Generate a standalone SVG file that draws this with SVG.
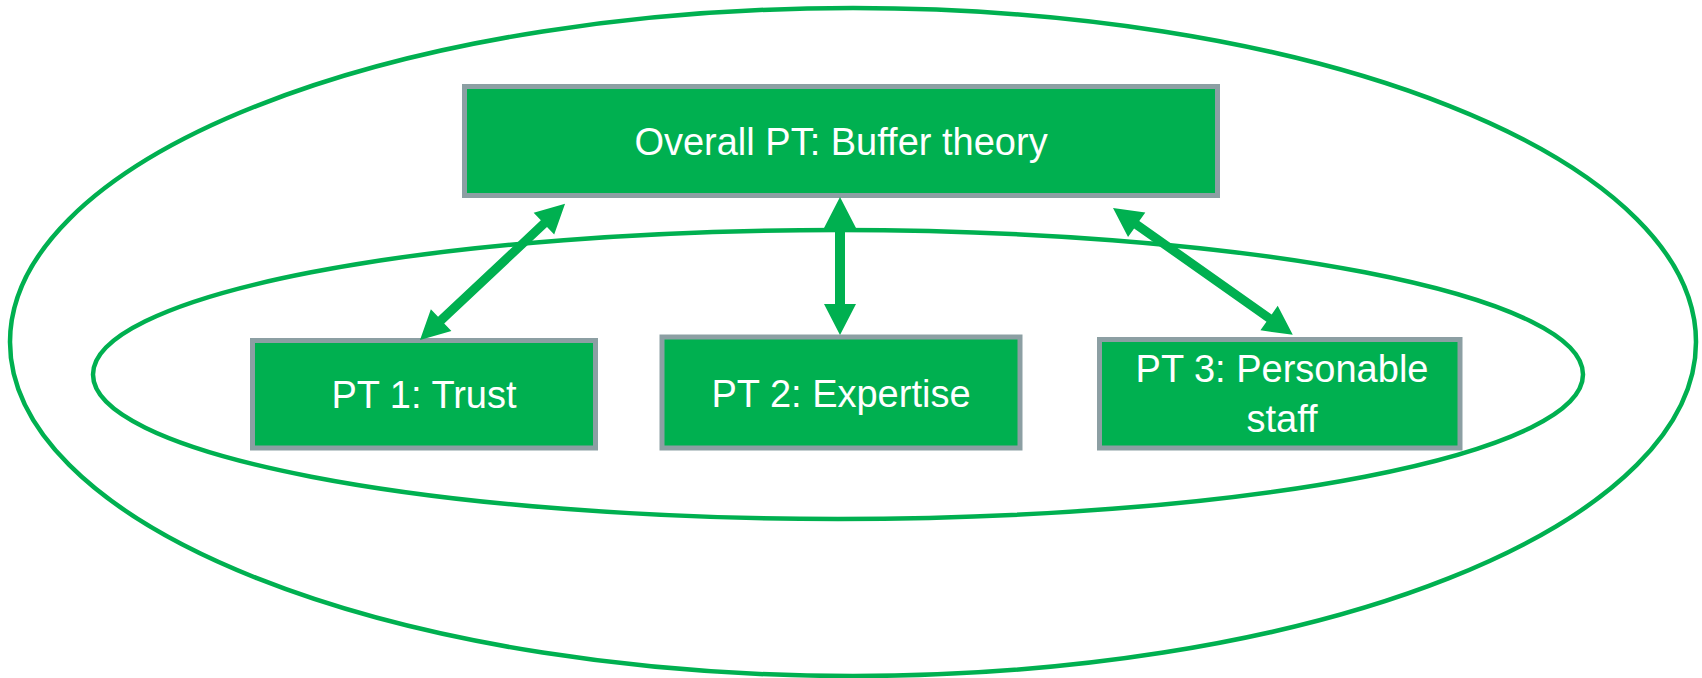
<svg xmlns="http://www.w3.org/2000/svg" width="1702" height="678" viewBox="0 0 1702 678">
<style>
.ring{fill:none;stroke:#00B050;stroke-width:4.5}
.box{fill:#00B050;stroke:#8C9FA3;stroke-width:5}
.lbl{font-family:"Liberation Sans",Arial,sans-serif;font-size:38px;fill:#FFFFFF;text-anchor:middle}
.arr{fill:#00B050;stroke:none}
</style>
<rect width="1702" height="678" fill="#FFFFFF"/>
<g id="outer-ellipse"><ellipse class="ring" cx="853" cy="342" rx="843" ry="334"/></g>
<g id="inner-ellipse"><ellipse class="ring" cx="838" cy="374.5" rx="745" ry="144.5"/></g>
<g id="node-overall">
<rect class="box" x="464.5" y="86.5" width="753" height="109"/>
<text class="lbl" x="841" y="155">Overall PT: Buffer theory</text>
</g>
<g id="node-pt1">
<rect class="box" x="252.5" y="340.5" width="343" height="107.5"/>
<text class="lbl" x="424" y="408">PT 1: Trust</text>
</g>
<g id="node-pt2">
<rect class="box" x="662" y="337" width="358" height="111"/>
<text class="lbl" x="841" y="407">PT 2: Expertise</text>
</g>
<g id="node-pt3">
<rect class="box" x="1099.5" y="339.5" width="360.5" height="108.5"/>
<text class="lbl" x="1282" y="382">PT 3: Personable</text>
<text class="lbl" x="1282" y="432">staff</text>
</g>
<g id="connectors">
<polygon class="arr" transform="translate(420,340) rotate(-43.2)" points="0,0 29,-15 29,-4.5 170,-4.5 170,-15 199,0 170,15 170,4.5 29,4.5 29,15"/>
<polygon class="arr" transform="translate(840,197) rotate(90)" points="0,0 31,-16 31,-5 107,-5 107,-16 138,0 107,16 107,5 31,5 31,16"/>
<polygon class="arr" transform="translate(1113,208) rotate(35.2)" points="0,0 29,-15 29,-4.5 191,-4.5 191,-15 220,0 191,15 191,4.5 29,4.5 29,15"/>
</g>
</svg>
